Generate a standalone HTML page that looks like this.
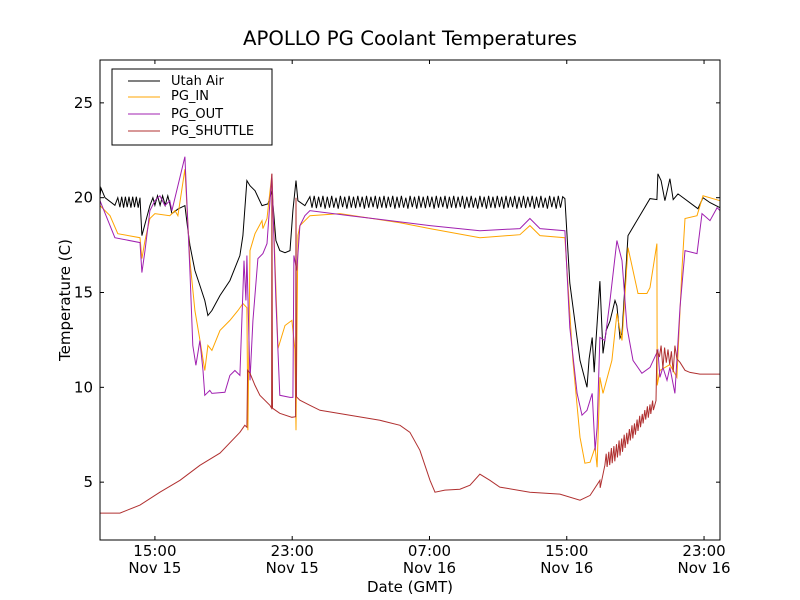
<!DOCTYPE html>
<html><head><meta charset="utf-8"><style>
body{margin:0;background:#fff}
svg{display:block;font-family:"DejaVu Sans","Liberation Sans",sans-serif}
</style></head><body>
<svg id="c" width="800" height="600" viewBox="0 0 800 600">
<rect x="0" y="0" width="800" height="600" fill="#fff"/>
<text x="410" y="45" font-size="19.7" text-anchor="middle">APOLLO PG Coolant Temperatures</text>
<g id="plot"></g>
<rect x="100" y="60" width="620" height="480" fill="none" stroke="#000" stroke-width="1"/>
<g id="axes"></g>
<text x="410" y="592" font-size="15" text-anchor="middle">Date (GMT)</text>
<text transform="translate(70,300) rotate(-90)" font-size="15" text-anchor="middle">Temperature (C)</text>
<g>
<rect x="112" y="69" width="160" height="76" fill="#fff" stroke="#000" stroke-width="1"/>
<line x1="128" y1="81" x2="160" y2="81" stroke="#000"/>
<text x="171" y="85" font-size="13">Utah Air</text>
<line x1="128" y1="97" x2="160" y2="97" stroke="#ffa500"/>
<text x="171" y="100" font-size="13">PG_IN</text>
<line x1="128" y1="114" x2="160" y2="114" stroke="#a020b0"/>
<text x="171" y="118" font-size="13">PG_OUT</text>
<line x1="128" y1="131" x2="160" y2="131" stroke="#b03030"/>
<text x="171" y="135" font-size="13">PG_SHUTTLE</text>
</g>
</svg>
<script>
const yTicks=[5,10,15,20,25];
const xTickHours=[15,23,31,39,47];
const xTickTimes=["15:00","23:00","07:00","15:00","23:00"];
const xTickDates=["Nov 15","Nov 15","Nov 16","Nov 16","Nov 16"];
const airPts=[[11.8,20.1],[11.86,20.5],[12.09,20],[12.67,19.6],[12.84,20]];
const airOscEarly=[19.5,20.05,19.47,20.05,19.5,20.05,19.47,20.05,19.5,20.05,19.47,20];
const airMid=[[14.24,18],[14.71,19.58],[14.88,20],[15.0,19.6],[15.15,20.1],[15.3,19.6],[15.45,20.1],[15.6,19.6],[15.75,20.1],[15.87,19.68],[15.99,19.16],[16.34,19.4],[16.75,19.58],[16.92,18.3],[17.04,17.5],[17.33,16.16],[17.62,15.37],[17.91,14.58],[18.09,13.79],[18.32,14.05],[18.79,14.84],[19.37,15.63],[19.95,16.95],[20.13,18],[20.36,20.9],[20.54,20.63],[20.83,20.37],[21.24,19.58],[21.59,19.68],[21.82,20.37],[22.05,17.74],[22.28,17.21],[22.58,17.1],[22.87,17.21],[23.04,19.32],[23.22,20.9],[23.33,19.84],[23.74,19.58]];
const airOsc=[20.05,19.47,20.1,19.45,20.05,19.5,20.1,19.42,20.05,19.47,20.1,19.47,20,19.42,20.1,19.5,20.05,19.42,20.1,19.47,20.05,19.45,20.1,19.5,20.05,19.42,20.1,19.47,20.05,19.5,20.1,19.42,20.05,19.47,20.1,19.45,20.05,19.5,20.1,19.42,20.05,19.47,20.1,19.47,20,19.42,20.1,19.5,20.05,19.42,20.1,19.47,20.05,19.45,20.1,19.5,20.05,19.42,20.1,19.47,20.05,19.5,20.1,19.42,20.05,19.47,20.1,19.45,20.05,19.5,20.1,19.42,20.05,19.47,20.1,19.47,20,19.42,20.1,19.5,20.05,19.42,20.1,19.47,20.05,19.45,20.1,19.5,20.05,19.42,20.1,19.47,20.05,19.5,20.1,19.42,20.05,19.47,20.1,19.45,20.05,19.5,20.1,19.42,20.05,19.47,20.1,19.47,20,19.42,20.1,19.5,20.05,19.42,20.1,19.47,20.05,19.95];
const airLate=[[39.18,15.5],[39.77,11.42],[40.18,10],[40.3,11.5],[40.48,12.63],[40.6,10.8],[40.7,12.4],[40.93,15.6],[41.11,11.79],[41.3,13],[41.52,13.5],[41.81,14.58],[41.92,14.3],[42.1,12.6],[42.22,12.84],[42.57,18],[43.85,19.95],[44.25,19.9],[44.31,21.26],[44.5,20.9],[44.72,19.84],[45.01,21],[45.2,19.9],[45.48,20.2],[46.64,19.42],[46.94,20],[47.35,19.74],[47.93,19.47]];
const pgIn=[[11.8,19.58],[12.38,19.05],[12.84,18.1],[14.13,17.89],[14.24,16.79],[14.42,17.74],[14.71,18.9],[15.0,19.16],[15.87,19.05],[16.17,19.32],[16.34,19.05],[16.75,21.5],[17.04,16.68],[17.33,14.05],[17.62,12.5],[17.91,10.89],[18.09,12.21],[18.32,11.95],[18.79,13],[19.37,13.53],[19.84,14.05],[20.13,14.42],[20.36,14.2],[20.42,7.74],[20.54,17.21],[20.83,18.1],[21.24,18.79],[21.29,18.37],[21.53,18.9],[21.82,21.26],[22.17,12.05],[22.58,13.26],[22.98,13.53],[23.16,12],[23.22,7.74],[23.33,18],[23.45,18.53],[24.03,19.05],[25.78,19.16],[29.28,18.68],[31.03,18.37],[33.94,17.89],[36.27,18.05],[36.85,18.53],[37.44,18.0],[38.89,17.89],[39.36,11.42],[39.77,7.37],[40.06,6],[40.36,6.05],[40.65,6.84],[40.77,5.79],[40.93,10.53],[41.11,9.68],[41.63,11.42],[41.92,13.89],[42.22,12.47],[42.57,17.37],[42.86,16.16],[43.15,14.95],[43.67,14.95],[43.85,15.26],[44.25,17.58],[44.27,10.1],[44.43,10.89],[45.01,11.2],[45.42,10.53],[45.71,16.16],[45.89,18.9],[46.59,19.05],[46.94,20.1],[47.93,19.84]];
const pgOut=[[11.8,19.84],[12.38,18.53],[12.67,17.89],[14.13,17.63],[14.24,16.05],[14.42,17.21],[14.71,19.32],[15.0,19.84],[15.29,20.1],[15.58,19.58],[15.87,19.84],[15.99,19.32],[16.34,20.63],[16.75,22.16],[17.04,16.16],[17.21,12.21],[17.39,11.16],[17.62,12.47],[17.8,10.89],[17.91,9.58],[18.2,9.84],[18.32,9.68],[19.08,9.74],[19.37,10.63],[19.66,10.89],[19.95,10.63],[20.19,16.68],[20.3,14.58],[20.36,16.95],[20.54,10.37],[20.71,13.5],[21.0,16.79],[21.29,17.05],[21.53,17.58],[21.82,21.26],[22.05,14.58],[22.28,9.58],[22.87,9.47],[23.04,9.47],[23.1,16.95],[23.27,16.16],[23.45,18.53],[23.74,19.05],[24.03,19.32],[26.36,19.05],[31.03,18.53],[33.94,18.26],[36.27,18.37],[36.85,18.9],[37.44,18.37],[38.89,18.26],[39.18,13.16],[39.6,9.68],[39.89,8.53],[40.18,8.79],[40.48,9.68],[40.65,6.68],[40.77,7.89],[40.93,12.63],[41.22,12.47],[41.52,14.58],[41.92,17.74],[42.22,16.68],[42.51,13.16],[42.86,11.42],[43.38,10.74],[43.85,11.05],[44.31,11.95],[44.43,10.53],[44.6,11.05],[44.84,10.37],[45.01,11.05],[45.3,9.68],[45.6,14.21],[45.89,17.21],[46.59,17.05],[46.88,19.16],[47.35,18.79],[47.76,19.47],[47.93,19.32]];
const shuttle=[[11.8,3.37],[12.96,3.37],[14.13,3.79],[15.29,4.47],[16.46,5.1],[17.62,5.89],[18.79,6.53],[19.95,7.63],[20.24,8.0],[20.36,7.9],[20.4,10.9],[20.54,10.74],[20.83,10.1],[21.12,9.58],[21.7,9.05],[21.8,8.9],[21.82,21.26],[21.85,8.9],[22.28,8.63],[22.98,8.42],[23.2,8.45],[23.22,20.0],[23.25,9.5],[23.45,9.32],[24.03,9.05],[24.62,8.79],[26.36,8.53],[28.11,8.26],[29.28,8.0],[29.86,7.63],[30.44,6.68],[31.03,5.1],[31.32,4.47],[31.9,4.58],[32.77,4.63],[33.36,4.84],[33.94,5.42],[34.52,5.1],[35.1,4.74],[36.85,4.47],[38.6,4.37],[39.77,4.05],[40.36,4.3],[40.93,5.1],[40.95,4.7]];
const shuttleSaw=[[41.22,5.9],[41.3,6.5],[41.35,5.8],[41.45,6.6],[41.5,5.9],[41.6,6.8],[41.65,6.0],[41.75,6.9],[41.8,6.1],[41.9,7.0],[41.95,6.3],[42.05,7.2],[42.1,6.4],[42.2,7.3],[42.25,6.6],[42.35,7.5],[42.4,6.8],[42.5,7.6],[42.55,7.0],[42.65,7.8],[42.7,7.2],[42.8,8.0],[42.85,7.3],[42.95,8.1],[43.0,7.5],[43.1,8.3],[43.15,7.7],[43.25,8.5],[43.3,7.9],[43.4,8.6],[43.45,8.1],[43.55,8.8],[43.6,8.3],[43.7,9.0],[43.75,8.4],[43.85,9.1],[43.9,8.6],[44.0,9.3],[44.05,8.8],[44.2,9.3]];
const shuttleLate=[[44.25,12.0],[44.4,11.6],[44.5,12.2],[44.6,11.0],[44.7,12.1],[44.8,11.3],[44.9,12.0],[45.0,11.2],[45.1,11.9],[45.2,10.8],[45.3,12.2],[45.42,11.5],[45.6,11.32],[45.89,10.9],[46.18,10.79],[46.76,10.7],[47.93,10.7]];

const X0=100,X1=720,Y0=540,Y1=60,TMIN=11.8,TMAX=47.93,VMIN=1.95,VMAX=27.26;
const sx=t=>X0+(t-TMIN)/(TMAX-TMIN)*(X1-X0);
const sy=v=>Y0-(v-VMIN)/(VMAX-VMIN)*(Y0-Y1);
const NS="http://www.w3.org/2000/svg";
const plot=document.getElementById('plot'),axes=document.getElementById('axes');
function mk(tag,par){const e=document.createElementNS(NS,tag);par.appendChild(e);return e;}
function uniform(vals,t0,t1){return vals.map((v,i)=>[t0+(t1-t0)*i/(vals.length-1),v]);}
const airAll=airPts.concat(uniform(airOscEarly,12.96,14.13),airMid,uniform(airOsc,24.03,38.89),airLate);
const shutAll=shuttle.concat(shuttleSaw,shuttleLate);
function line(pts,color,name){
  const p=mk('path',plot);
  p.setAttribute('d',pts.map((q,i)=>(i?'L':'M')+sx(q[0]).toFixed(1)+','+sy(q[1]).toFixed(1)).join(''));
  p.setAttribute('fill','none');p.setAttribute('stroke',color);p.setAttribute('stroke-width','1');
  
  
}
line(airAll,'#000','series-utah-air');
line(pgIn,'#ffa500','series-pg-in');
line(pgOut,'#a020b0','series-pg-out');
line(shutAll,'#b03030','series-pg-shuttle');
yTicks.forEach(v=>{
  const y=sy(v);
  [[X0,X0+4],[X1,X1-4]].forEach(a=>{const l=mk('line',axes);l.setAttribute('x1',a[0]);l.setAttribute('x2',a[1]);l.setAttribute('y1',y);l.setAttribute('y2',y);l.setAttribute('stroke','#000');
    
    });
  const t=mk('text',axes);t.setAttribute('x',X0-7);t.setAttribute('y',y+5);t.setAttribute('font-size','15');t.setAttribute('text-anchor','end');t.textContent=v;
  
  
});
xTickHours.forEach((h,i)=>{
  const x=sx(h);
  [[Y0,Y0-4],[Y1,Y1+4]].forEach(a=>{const l=mk('line',axes);l.setAttribute('x1',x);l.setAttribute('x2',x);l.setAttribute('y1',a[0]);l.setAttribute('y2',a[1]);l.setAttribute('stroke','#000');
    
    });
  const t=mk('text',axes);t.setAttribute('x',x);t.setAttribute('y',556);t.setAttribute('font-size','15');t.setAttribute('text-anchor','middle');t.textContent=xTickTimes[i];
  
  
  const d=mk('text',axes);d.setAttribute('x',x);d.setAttribute('y',573);d.setAttribute('font-size','15');d.setAttribute('text-anchor','middle');d.textContent=xTickDates[i];
  
  
});
</script>
</body></html>
